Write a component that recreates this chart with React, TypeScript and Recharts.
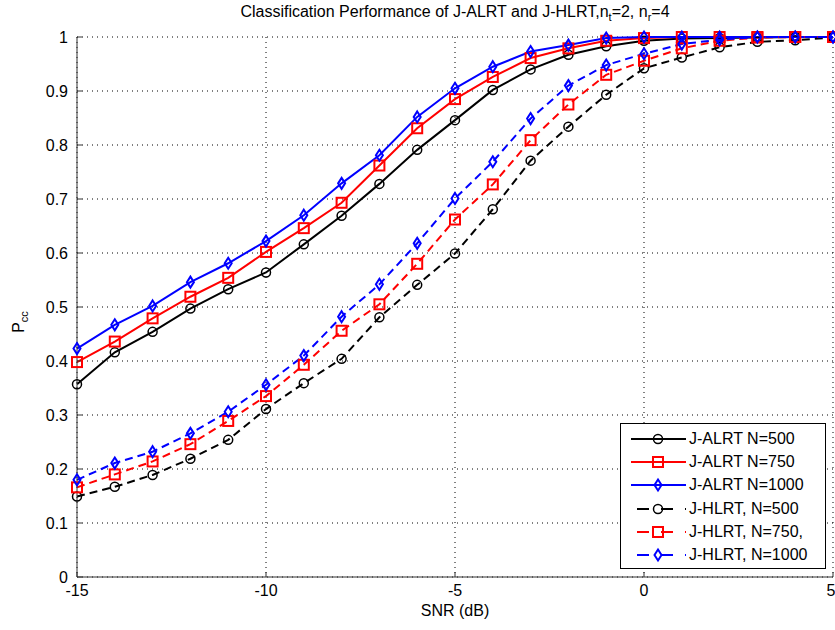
import React from "react";
import {
  CartesianGrid,
  Legend,
  Line,
  LineChart,
  XAxis,
  YAxis,
} from "recharts";

const snr = [-15, -14, -13, -12, -11, -10, -9, -8, -7, -6, -5, -4, -3, -2, -1, 0, 1, 2, 3, 4, 5];

const alrt500 = [0.357, 0.416, 0.454, 0.497, 0.533, 0.564, 0.616, 0.669, 0.728, 0.791, 0.846, 0.902, 0.94, 0.967, 0.983, 0.993, 0.997, 0.998, 0.999, 1, 1];
const alrt750 = [0.398, 0.436, 0.479, 0.519, 0.554, 0.602, 0.646, 0.693, 0.762, 0.831, 0.885, 0.926, 0.961, 0.979, 0.993, 0.998, 1, 1, 1, 1, 1];
const alrt1000 = [0.423, 0.467, 0.502, 0.546, 0.581, 0.622, 0.67, 0.729, 0.781, 0.852, 0.905, 0.945, 0.973, 0.985, 0.998, 1, 1, 1, 1, 1, 1];
const hlrt500 = [0.149, 0.167, 0.189, 0.219, 0.254, 0.311, 0.359, 0.404, 0.481, 0.541, 0.599, 0.681, 0.771, 0.834, 0.893, 0.942, 0.962, 0.981, 0.991, 0.994, 0.999];
const hlrt750 = [0.166, 0.19, 0.214, 0.246, 0.289, 0.335, 0.393, 0.456, 0.505, 0.58, 0.662, 0.727, 0.809, 0.875, 0.93, 0.956, 0.979, 0.993, 0.999, 1, 1];
const hlrt1000 = [0.18, 0.211, 0.232, 0.266, 0.306, 0.356, 0.41, 0.482, 0.542, 0.618, 0.701, 0.769, 0.849, 0.91, 0.948, 0.969, 0.987, 0.995, 1, 1, 1];

const xTicks = [-15, -10, -5, 0, 5];
const yTicks = [0, 0.1, 0.2, 0.3, 0.4, 0.5, 0.6, 0.7, 0.8, 0.9, 1];

type MarkerKind = "circle" | "square" | "diamond";

type SeriesDef = {
  key: string;
  name: string;
  color: string;
  dashed: boolean;
  marker: MarkerKind;
  values: number[];
};

const SERIES: SeriesDef[] = [
  { key: "alrt500", name: "J-ALRT N=500", color: "#000000", dashed: false, marker: "circle", values: alrt500 },
  { key: "alrt750", name: "J-ALRT N=750", color: "#ff0000", dashed: false, marker: "square", values: alrt750 },
  { key: "alrt1000", name: "J-ALRT N=1000", color: "#0000ff", dashed: false, marker: "diamond", values: alrt1000 },
  { key: "hlrt500", name: "J-HLRT, N=500", color: "#000000", dashed: true, marker: "circle", values: hlrt500 },
  { key: "hlrt750", name: "J-HLRT, N=750,", color: "#ff0000", dashed: true, marker: "square", values: hlrt750 },
  { key: "hlrt1000", name: "J-HLRT, N=1000", color: "#0000ff", dashed: true, marker: "diamond", values: hlrt1000 },
];

const data = snr.map((s, i) => {
  const row: Record<string, number> = { snr: s };
  SERIES.forEach((sr) => {
    row[sr.key] = sr.values[i];
  });
  return row;
});

const FONT = "'Liberation Sans', Arial, Helvetica, sans-serif";
const DASH = "8 5";

const Marker = ({ kind, cx, cy, color }: { kind: MarkerKind; cx: number; cy: number; color: string }) => {
  if (kind === "circle") {
    return <circle cx={cx} cy={cy} r={4.5} fill="none" stroke={color} strokeWidth={1.5} />;
  }
  if (kind === "square") {
    return <rect x={cx - 5} y={cy - 5} width={10} height={10} fill="none" stroke={color} strokeWidth={2} />;
  }
  return (
    <polygon
      points={`${cx},${cy - 5.5} ${cx + 3.5},${cy} ${cx},${cy + 5.5} ${cx - 3.5},${cy}`}
      fill="none"
      stroke={color}
      strokeWidth={2}
    />
  );
};

const LegendBox = () => (
  <div
    style={{
      width: 206,
      height: 146,
      border: "1px solid #000",
      background: "#fff",
      fontFamily: FONT,
      fontSize: 16,
      paddingTop: 3,
      boxSizing: "border-box",
      textAlign: "left",
    }}
  >
    {SERIES.map((s) => (
      <div key={s.key} style={{ display: "flex", alignItems: "center", height: 23.3 }}>
        <svg width={68} height={20} style={{ flex: "none" }}>
          <line
            x1={s.dashed ? 16 : 10}
            x2={65}
            y1={10}
            y2={10}
            stroke={s.color}
            strokeWidth={2}
            strokeDasharray={s.dashed ? "12 12" : undefined}
          />
          <Marker kind={s.marker} cx={37} cy={10} color={s.color} />
        </svg>
        <span style={{ color: "#000", whiteSpace: "nowrap" }}>{s.name}</span>
      </div>
    ))}
  </div>
);

const YLabel = () => (
  <text x={24} y={322} transform="rotate(-90 24 322)" textAnchor="middle" fontSize={16} fontFamily={FONT} fill="#000">
    P<tspan fontSize={11} dy={4}>cc</tspan>
  </text>
);

const XLabel = () => (
  <text x={455} y={616} textAnchor="middle" fontSize={16} fontFamily={FONT} fill="#000">
    SNR (dB)
  </text>
);

const tickStyle = { fontSize: 16, fontFamily: FONT, fill: "#000" };

const App = () => (
  <div style={{ position: "absolute", left: 0, top: 0, width: 835, height: 630, background: "#fff" }}>
    <div
      style={{
        position: "absolute",
        left: 77,
        width: 756,
        top: 3,
        textAlign: "center",
        fontFamily: FONT,
        fontSize: 16,
        color: "#000",
        whiteSpace: "nowrap",
      }}
    >
      Classification Performance of J-ALRT and J-HLRT,n<sub style={{ fontSize: 11 }}>t</sub>=2, n
      <sub style={{ fontSize: 11 }}>r</sub>=4
    </div>
    <LineChart
      width={835}
      height={630}
      data={data}
      margin={{ top: 37, right: 2, bottom: 0, left: 0 }}
      style={{ position: "absolute", left: 0, top: 0 }}
    >
      <CartesianGrid xAxisId="b" yAxisId="l" stroke="#000" strokeDasharray="1 4" strokeWidth={1} />
      <XAxis
        xAxisId="b"
        dataKey="snr"
        type="number"
        domain={[-15, 5]}
        ticks={xTicks}
        height={53}
        tickSize={-5}
        tickMargin={13}
        tick={tickStyle}
        stroke="#333"
        label={<XLabel />}
      />
      <XAxis xAxisId="t" orientation="top" dataKey="snr" type="number" domain={[-15, 5]} ticks={xTicks} height={0} tickSize={-5} tick={() => <g />} stroke="#333" />
      <YAxis
        yAxisId="l"
        type="number"
        domain={[0, 1]}
        ticks={yTicks}
        width={77}
        tickSize={-5}
        tickMargin={14}
        tick={tickStyle}
        stroke="#333"
        label={<YLabel />}
      />
      <YAxis yAxisId="r" orientation="right" type="number" domain={[0, 1]} ticks={yTicks} width={0} tickSize={-5} tick={() => <g />} stroke="#333" />
      {SERIES.map((s) => (
        <Line
          key={s.key}
          xAxisId="b"
          yAxisId="l"
          dataKey={s.key}
          name={s.name}
          type="linear"
          stroke={s.color}
          strokeWidth={2}
          strokeDasharray={s.dashed ? DASH : undefined}
          isAnimationActive={false}
          dot={(p: any) => <Marker key={`${s.key}-${p.index}`} kind={s.marker} cx={p.cx} cy={p.cy} color={s.color} />}
          activeDot={false}
        />
      ))}
      <Legend
        layout="horizontal"
        verticalAlign="middle"
        align="center"
        content={<LegendBox />}
        wrapperStyle={{ position: "absolute", left: 620, top: 423, width: 206, height: 146 }}
      />
    </LineChart>
  </div>
);

export default App;
